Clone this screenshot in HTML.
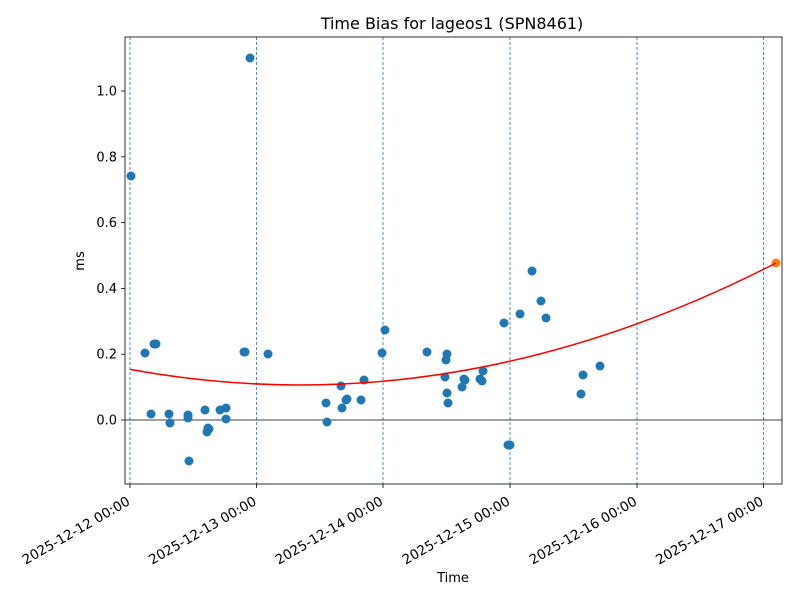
<!DOCTYPE html>
<html><head><meta charset="utf-8"><style>body{margin:0;background:#fff}svg{display:block;font-family:"DejaVu Sans","Liberation Sans",sans-serif}</style></head>
<body>
<svg width="800" height="600" xmlns="http://www.w3.org/2000/svg">
<rect width="800" height="600" fill="#fff"/>
<text x="452" y="29" font-size="16" text-anchor="middle">Time Bias for lageos1 (SPN8461)</text>
<g stroke="#1f77b4" stroke-width="0.8" stroke-dasharray="3,2">
<line x1="130" y1="37" x2="130" y2="484"/><line x1="256.5" y1="37" x2="256.5" y2="484"/><line x1="383" y1="37" x2="383" y2="484"/><line x1="510" y1="37" x2="510" y2="484"/><line x1="637" y1="37" x2="637" y2="484"/><line x1="763.5" y1="37" x2="763.5" y2="484"/>
</g>
<line x1="125" y1="420" x2="782" y2="420" stroke="#000" stroke-width="0.8"/>
<g fill="#1f77b4">
<circle cx="131" cy="176" r="4.5"/><circle cx="145" cy="353" r="4.5"/><circle cx="151" cy="414" r="4.5"/><circle cx="154" cy="344" r="4.5"/><circle cx="156" cy="344" r="4.5"/><circle cx="169" cy="414" r="4.5"/><circle cx="170" cy="423" r="4.5"/><circle cx="188" cy="415" r="4.5"/><circle cx="188" cy="418" r="4.5"/><circle cx="189" cy="461" r="4.5"/><circle cx="205" cy="410" r="4.5"/><circle cx="207" cy="432" r="4.5"/><circle cx="208" cy="428" r="4.5"/><circle cx="209" cy="429" r="4.5"/><circle cx="220" cy="410" r="4.5"/><circle cx="226" cy="408" r="4.5"/><circle cx="226" cy="419" r="4.5"/><circle cx="244" cy="352" r="4.5"/><circle cx="245" cy="352" r="4.5"/><circle cx="250" cy="58" r="4.5"/><circle cx="268" cy="354" r="4.5"/><circle cx="326" cy="403" r="4.5"/><circle cx="327" cy="422" r="4.5"/><circle cx="341" cy="386" r="4.5"/><circle cx="342" cy="408" r="4.5"/><circle cx="346" cy="400" r="4.5"/><circle cx="347" cy="399" r="4.5"/><circle cx="361" cy="400" r="4.5"/><circle cx="364" cy="380" r="4.5"/><circle cx="382" cy="353" r="4.5"/><circle cx="385" cy="330" r="4.5"/><circle cx="427" cy="352" r="4.5"/><circle cx="445" cy="377" r="4.5"/><circle cx="446" cy="360" r="4.5"/><circle cx="447" cy="354" r="4.5"/><circle cx="447" cy="393" r="4.5"/><circle cx="448" cy="403" r="4.5"/><circle cx="462" cy="387" r="4.5"/><circle cx="464" cy="379" r="4.5"/><circle cx="465" cy="380" r="4.5"/><circle cx="480" cy="379" r="4.5"/><circle cx="482" cy="381" r="4.5"/><circle cx="483" cy="371" r="4.5"/><circle cx="504" cy="323" r="4.5"/><circle cx="508" cy="445" r="4.5"/><circle cx="510" cy="445" r="4.5"/><circle cx="520" cy="314" r="4.5"/><circle cx="532" cy="271" r="4.5"/><circle cx="541" cy="301" r="4.5"/><circle cx="546" cy="318" r="4.5"/><circle cx="581" cy="394" r="4.5"/><circle cx="583" cy="375" r="4.5"/><circle cx="600" cy="366" r="4.5"/>
</g>
<circle cx="776" cy="263" r="4.5" fill="#ff7f0e"/>
<path d="M130,369.4 Q453,428.5 776,263" fill="none" stroke="#f00" stroke-width="1.5"/>
<rect x="125" y="37" width="657" height="447" fill="none" stroke="#000" stroke-width="0.8"/>
<g stroke="#000" stroke-width="0.8">
<line x1="121" y1="91" x2="125" y2="91"/><line x1="121" y1="156.8" x2="125" y2="156.8"/><line x1="121" y1="222.6" x2="125" y2="222.6"/><line x1="121" y1="288.4" x2="125" y2="288.4"/><line x1="121" y1="354.2" x2="125" y2="354.2"/><line x1="121" y1="420" x2="125" y2="420"/>
<line x1="130" y1="484" x2="130" y2="488"/><line x1="256.5" y1="484" x2="256.5" y2="488"/><line x1="383" y1="484" x2="383" y2="488"/><line x1="510" y1="484" x2="510" y2="488"/><line x1="637" y1="484" x2="637" y2="488"/><line x1="763.5" y1="484" x2="763.5" y2="488"/>
</g>
<g font-size="13" text-anchor="end">
<text x="117" y="95.5">1.0</text><text x="117" y="161.3">0.8</text><text x="117" y="227.1">0.6</text><text x="117" y="292.9">0.4</text><text x="117" y="358.7">0.2</text><text x="117" y="424.5">0.0</text>
</g>
<g font-size="13.5" text-anchor="end">
<text transform="translate(131,504) rotate(-30)">2025-12-12 00:00</text>
<text transform="translate(257.5,504) rotate(-30)">2025-12-13 00:00</text>
<text transform="translate(384,504) rotate(-30)">2025-12-14 00:00</text>
<text transform="translate(511,504) rotate(-30)">2025-12-15 00:00</text>
<text transform="translate(638,504) rotate(-30)">2025-12-16 00:00</text>
<text transform="translate(764.5,504) rotate(-30)">2025-12-17 00:00</text>
</g>
<text x="453" y="582" font-size="13" text-anchor="middle">Time</text>
<text transform="translate(84,261) rotate(-90)" font-size="13" text-anchor="middle">ms</text>
</svg>
</body></html>
